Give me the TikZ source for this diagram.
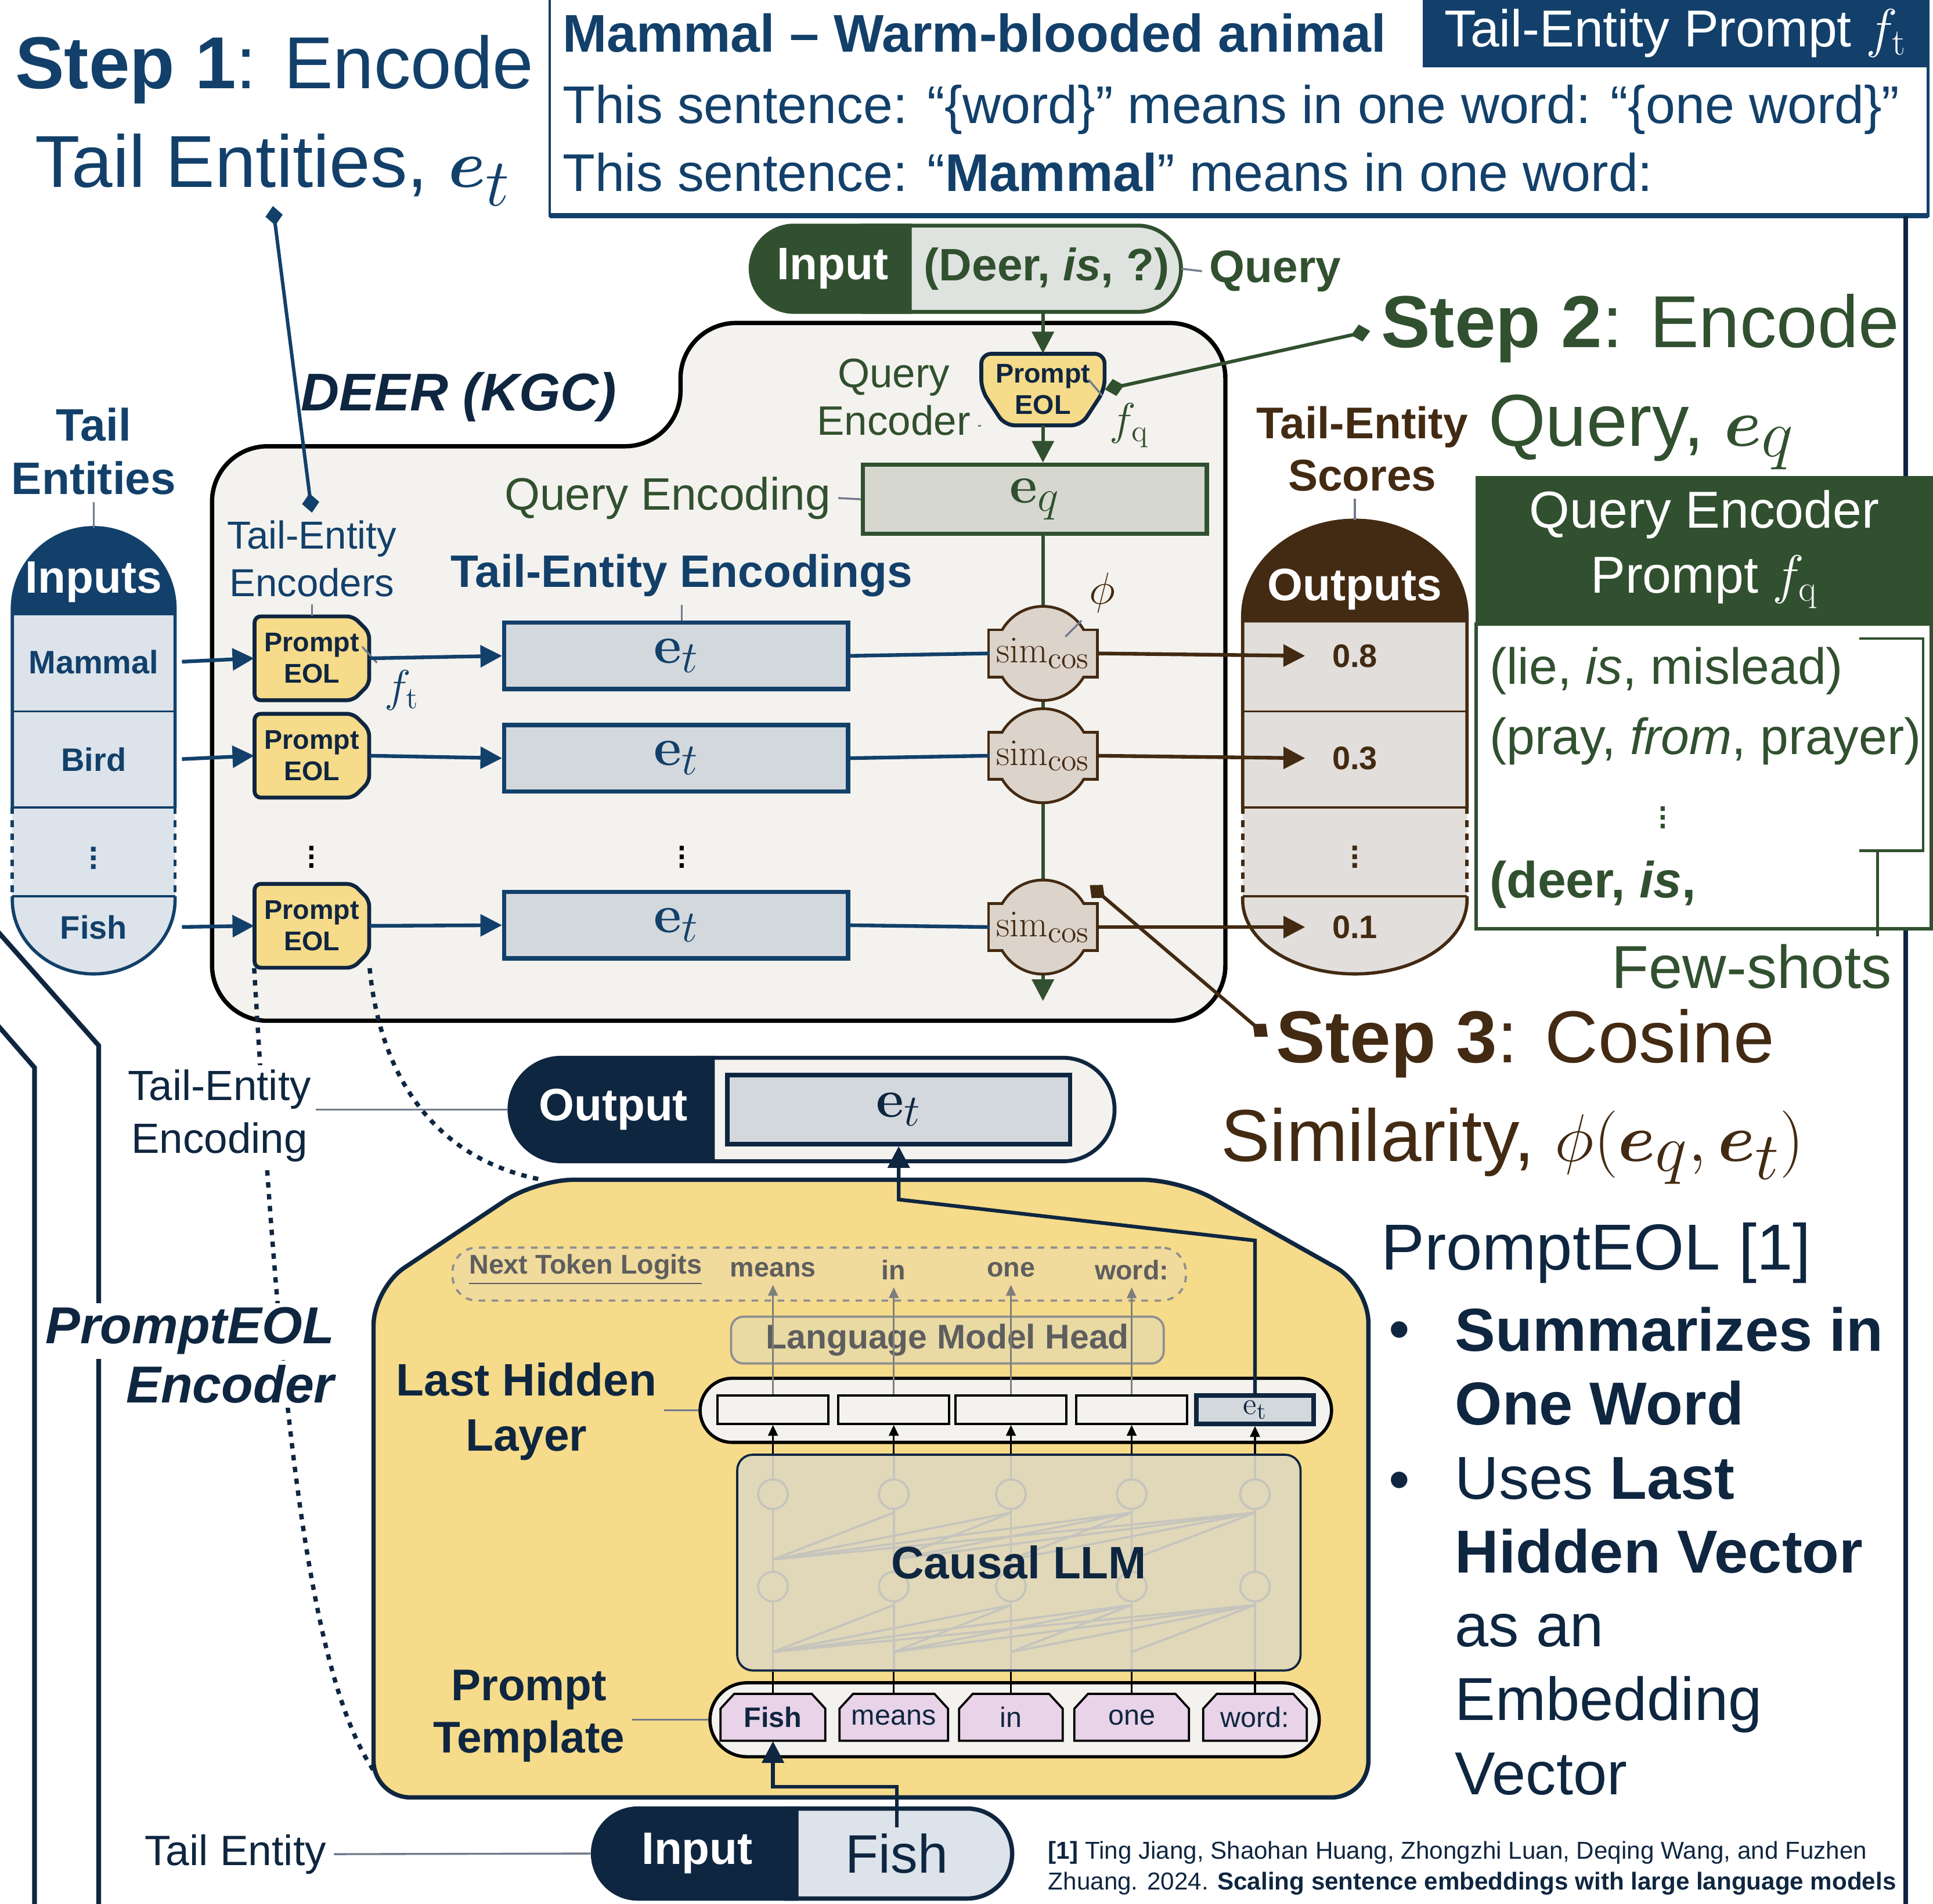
\documentclass[tikz,border=0pt]{standalone}
\usepackage{amsmath}
\usepackage{bm}
\usepackage[no-math]{fontspec}
\setmainfont{Liberation Sans}
\usetikzlibrary{arrows.meta, shapes.misc, calc, positioning}

\definecolor{tblue}{HTML}{12406A}
\definecolor{navy}{HTML}{0F2640}
\definecolor{qgreen}{HTML}{31502F}
\definecolor{sbrown}{HTML}{432A12}
\definecolor{eolyel}{HTML}{F5DB8A}
\definecolor{boxgrey}{HTML}{D3D8DD}
\definecolor{infill}{HTML}{DCE3EA}
\definecolor{eqfill}{HTML}{D6D8D0}
\definecolor{deerfill}{HTML}{F4F2EE}
\definecolor{outfill}{HTML}{E2DEDB}
\definecolor{simfill}{HTML}{DCD3CB}
\definecolor{tokpink}{HTML}{E8D3E8}
\definecolor{qinfill}{HTML}{DFE3DF}
\definecolor{lblgrey}{HTML}{717A8C}
\definecolor{lmgrey}{HTML}{5E5E5E}
\definecolor{logitfill}{HTML}{F0DA9C}
\definecolor{headfill}{HTML}{E9D9A3}
\definecolor{llmgrey}{HTML}{D6D7D3}
\definecolor{faintgrey}{HTML}{A6A396}

\newcommand{\fsz}[2]{\fontsize{#1}{#2}\selectfont}
\newcommand{\bigmath}[1]{\scalebox{1.25}{$#1$}}
% box shapes drawn under their nodes
\newcommand{\eolshape}[2]{%
  \draw[navy, fill=eolyel, line width=1.8pt, rounded corners=0.1cm] (#1-46.5,#2) -- (#1-46.5,#2-34)
    -- (#1+33.5,#2-34) -- (#1+46.5,#2-21) -- (#1+46.5,#2+21) -- (#1+33.5,#2+34) -- (#1-46.5,#2+34) -- cycle;}
\newcommand{\qeolshape}[2]{%
  \draw[navy, fill=eolyel, line width=1.8pt, rounded corners=0.16cm] (#1,#2-29) -- (#1+50,#2-29)
    -- (#1+50,#2) -- (#1+31,#2+29) -- (#1-31,#2+29) -- (#1-50,#2) -- (#1-50,#2-29) -- cycle;}
\newcommand{\tokshape}[3]{%
  \draw[black, fill=tokpink, line width=1pt] (#1,#2+19) -- (#1+#3,#2+19) -- (#1+#3,#2-7) -- (#1+#3-11,#2-19)
    -- (#1-#3+11,#2-19) -- (#1-#3,#2-7) -- (#1-#3,#2+19) -- cycle;}

\pgfdeclarelayer{bg}
\pgfdeclarelayer{edges}
\pgfsetlayers{bg,edges,main}

\begin{document}
\begin{tikzpicture}[x=0.02cm, y=-0.02cm,
    lbl/.style={draw=lblgrey, line width=0.9pt},
    bigarr/.style={-{Triangle[length=10pt,width=10pt]}, line width=1.7pt},
    thinarr/.style={-{Triangle[length=5pt,width=4.5pt]}, line width=0.9pt},
    ptr/.style={{Diamond[length=9pt,width=8pt]}-{Diamond[length=9pt,width=8pt]}, line width=1.6pt},
    dotline/.style={navy, line width=2pt, dash pattern=on 2.5pt off 3pt},
    eolbox/.style={text=navy, align=center, font=\bfseries\fsz{12.5}{14.5},
      minimum width=1.86cm, minimum height=1.36cm, inner sep=0pt},
    etbox/.style={draw=tblue, line width=2pt, fill=boxgrey, text=tblue, font=\fsz{28}{30},
      minimum width=5.58cm, minimum height=1.08cm, inner sep=0pt},
    cell/.style={minimum width=2.64cm, inner sep=0pt, font=\bfseries\fsz{15}{18}},
    dots/.style={inner sep=0pt, font=\fsz{20}{24}},
    token/.style={minimum height=0.76cm, inner sep=0pt, text=navy, font=\fsz{13}{15}},
    hcell/.style={draw=black, line width=1pt, fill=deerfill, minimum width=1.8cm,
      minimum height=0.46cm, inner sep=0pt},
    lgtxt/.style={text=lmgrey, font=\bfseries\fsz{12.5}{15}},
    title/.style={anchor=base west, inner sep=0pt, font=\fsz{34}{40}},
    line/.style={anchor=base west, inner sep=0pt},
  ]
\useasboundingbox (0,0) rectangle (1568,1544);

% frames and panels
\begin{pgfonlayer}{bg}
  \draw[tblue, line width=1.2pt] (446,-5) -- (446,175) -- (1564,175) -- (1564,-5);
  \draw[tblue, line width=2.4pt] (446,175) -- (1564,175);
  \draw[navy, line width=2.2pt] (1546,175) -- (1546,1550);
  \draw[navy, line width=2.2pt] (-5,752) -- (80,848) -- (80,1550);
  \draw[navy, line width=2.2pt] (-5,828) -- (28,866) -- (28,1550);
  % DEER (KGC)
  \draw[fill=deerfill, line width=2pt, rounded corners=0.9cm] (700,262) -- (994,262) -- (994,828)
    -- (172,828) -- (172,362) -- (552,362) -- (552,262) -- cycle;
  % PromptEOL encoder
  \draw[navy, fill=eolyel, line width=2pt, rounded corners=0.6cm] (700,957) -- (957,957) -- (1110,1043)
    -- (1110,1458) -- (303,1458) -- (303,1045) -- (435,957) -- cycle;
\end{pgfonlayer}

% tail-entity prompt
\node[fill=tblue, text=white, minimum width=8.2cm, minimum height=1.1cm, font=\fsz{24}{28}] (tphead) at (1359,27) {Tail-Entity Prompt $f_\mathrm{t}$};
\node[line, text=tblue, font=\bfseries\fsz{24.5}{28}] (tpline1) at (456,42) {Mammal -- Warm-blooded animal};
\node[line, text=tblue, font=\fsz{24.5}{28}] (tpline2) at (456,100) {This sentence: “\{word\}” means in one word: “\{one word\}”};
\node[line, text=tblue, font=\fsz{24.5}{28}] (tpline3) at (456,155) {This sentence: “\textbf{Mammal}” means in one word:};

% step titles
\node[title, text=tblue] (step1a) at (12,72) {\textbf{Step 1}: Encode};
\node[title, text=tblue] (step1b) at (28,152) {Tail Entities, \bigmath{\bm{e}_t}};
\node[title, text=qgreen] (step2a) at (1120,282) {\textbf{Step 2}: Encode};
\node[title, text=qgreen] (step2b) at (1207,362) {Query, \bigmath{\bm{e}_q}};
\node[title, text=sbrown] (step3a) at (1035,862) {\textbf{Step 3}: Cosine};
\node[title, text=sbrown] (step3b) at (990,942) {Similarity, \bigmath{\phi(\bm{e}_q, \bm{e}_t)}};

\node[text=navy, font=\bfseries\itshape\fsz{24.5}{30}] (deer) at (372,322) {DEER (KGC)};

% query input
\path[draw=qgreen, fill=qinfill, line width=1.8pt] (700,183) -- (923,183) arc[start angle=270, end angle=450, radius=35] -- (700,253) -- cycle;
\node[minimum width=4.36cm, minimum height=1.4cm, text=qgreen, font=\bfseries\fsz{21}{24}] (qtxt) at (849,218) {(Deer, \textit{is}, ?)};
\node[rounded rectangle, rounded rectangle east arc=none, draw=qgreen, line width=1.8pt, fill=qgreen, inner xsep=0pt,
  minimum width=2.58cm, minimum height=1.4cm, text=white, font=\bfseries\fsz{21}{24}] (qin) at (675.5,218) {Input};
\node[anchor=west, text=qgreen, font=\bfseries\fsz{21}{24}] (qlabel) at (975,220) {Query};

\qeolshape{846}{316}
\node[eolbox, minimum width=2cm, minimum height=1.16cm] (qeol) at (846,316) {Prompt\\EOL};
\node[text=qgreen, font=\fsz{19}{22}, align=center] (qenc) at (725,322) {Query\\Encoder};
\node[text=qgreen, font=\fsz{20}{24}] (fq) at (916,345) {$f_\mathrm{q}$};
\node[draw=qgreen, line width=2pt, fill=eqfill, text=qgreen, font=\fsz{28}{30}, inner sep=0pt, minimum width=5.58cm, minimum height=1.12cm] (eq) at (839.5,405) {$\mathbf{e}_q$};
\node[anchor=east, text=qgreen, font=\fsz{21}{24}] (qenclbl) at (680,404) {Query Encoding};
\coordinate (qend) at (846,812);

% tail-entity inputs
\fill[infill] (10,730) -- (10,494) arc[start angle=180, end angle=360, radius=66] -- (142,730)
  arc[start angle=0, end angle=180, x radius=66, y radius=60] -- cycle;
\fill[tblue] (10,497) -- (10,494) arc[start angle=180, end angle=360, radius=66] -- (142,497) -- cycle;
\draw[tblue, line width=1.5pt] (10,655) -- (10,494) arc[start angle=180, end angle=360, radius=66] -- (142,655);
\draw[tblue, line width=1.5pt, dashed] (10,655) -- (10,727) (142,655) -- (142,727);
\draw[tblue, line width=1.5pt] (10,727) -- (10,730) arc[start angle=180, end angle=0, x radius=66, y radius=60] -- (142,727);
\draw[tblue, line width=2.5pt] (10,497) -- (142,497);
\draw[tblue, line width=1pt] (10,577) -- (142,577) (10,655) -- (142,655) (10,727) -- (142,727);
\node[text=white, font=\bfseries\fsz{21}{24}] (inhead) at (76,472) {Inputs};
\node[cell, text=tblue] (in1) at (76,537) {Mammal};
\node[cell, text=tblue] (in2) at (76,616) {Bird};
\node[cell, text=tblue] (in3) at (76,691) {$\vdots$};
\node[cell, text=tblue] (in4) at (76,752) {Fish};
\node[text=tblue, font=\bfseries\fsz{21}{24.5}, align=center] (tentlbl) at (76,366) {Tail\\Entities};
\coordinate (intop) at (76,428);

% tail-entity encoders
\eolshape{253}{534}
\eolshape{253}{613}
\eolshape{253}{751}
\node[eolbox] (eol1) at (253,534) {Prompt\\EOL};
\node[eolbox] (eol2) at (253,613) {Prompt\\EOL};
\node[eolbox] (eol3) at (253,751) {Prompt\\EOL};
\node[dots] (eoldots) at (253,690) {$\vdots$};
\node[text=tblue, font=\fsz{20}{24}] (ft) at (326,560) {$f_\mathrm{t}$};
\node[text=tblue, font=\fsz{18}{22}, align=center] (teenc) at (253,453) {Tail-Entity\\Encoders};

\node[etbox] (et1) at (548.5,532) {$\mathbf{e}_t$};
\node[etbox] (et2) at (548.5,615) {$\mathbf{e}_t$};
\node[etbox] (et3) at (548.5,750.5) {$\mathbf{e}_t$};
\node[dots] (etdots) at (553,690) {$\vdots$};
\node[text=tblue, font=\bfseries\fsz{21}{24}] (tee) at (553,467) {Tail-Entity Encodings};

% cosine similarity
\foreach \n/\y in {s1/530,s2/613,s3/752} {
  \draw[sbrown, line width=2.6pt] (846,\y) circle[radius=37];
  \draw[sbrown, line width=2.6pt] (803,\y-18) rectangle (889,\y+18);
  \fill[simfill] (846,\y) circle[radius=37];
  \fill[simfill] (803,\y-18) rectangle (889,\y+18);
  \node[text=sbrown, font=\fsz{19}{22}, minimum width=1.72cm, minimum height=0.72cm, inner sep=0pt] (\n) at (846,\y) {$\mathrm{sim}_{\mathrm{cos}}$};
}
\node[text=sbrown, font=\fsz{20}{24}] (phi) at (894,481) {$\phi$};
\coordinate (p3) at (884,718);

% outputs
\fill[outfill] (1008,730) -- (1008,500) arc[start angle=180, end angle=360, x radius=91, y radius=78] -- (1190,730)
  arc[start angle=0, end angle=180, x radius=91, y radius=60] -- cycle;
\fill[sbrown] (1008,505) -- (1008,500) arc[start angle=180, end angle=360, x radius=91, y radius=78] -- (1190,505) -- cycle;
\draw[sbrown, line width=1.5pt] (1008,655) -- (1008,500) arc[start angle=180, end angle=360, x radius=91, y radius=78] -- (1190,655);
\draw[sbrown, line width=1.5pt, dashed] (1008,655) -- (1008,727) (1190,655) -- (1190,727);
\draw[sbrown, line width=1.5pt] (1008,727) -- (1008,730) arc[start angle=180, end angle=0, x radius=91, y radius=60] -- (1190,727);
\draw[sbrown, line width=1pt] (1008,577) -- (1190,577) (1008,655) -- (1190,655) (1008,727) -- (1190,727);
\node[text=white, font=\bfseries\fsz{21}{24}] (outhead) at (1099,478) {Outputs};
\node[text=sbrown, font=\bfseries\fsz{15}{18}, minimum width=1.6cm, inner sep=0pt] (o1) at (1099,532) {0.8};
\node[text=sbrown, font=\bfseries\fsz{15}{18}, minimum width=1.6cm, inner sep=0pt] (o2) at (1099,615) {0.3};
\node[text=sbrown, font=\bfseries\fsz{15}{18}, minimum width=1.6cm, inner sep=0pt] (o3) at (1099,690) {$\vdots$};
\node[text=sbrown, font=\bfseries\fsz{15}{18}, minimum width=1.6cm, inner sep=0pt] (o4) at (1099,752) {0.1};
\node[text=sbrown, font=\bfseries\fsz{20.5}{24}, align=center] (scores) at (1105,364) {Tail-Entity\\Scores};
\coordinate (outtop) at (1099,422);

% query encoder prompt
\node[fill=qgreen, text=white, minimum width=7.42cm, minimum height=2.38cm, font=\fsz{24}{30}, align=center] (qphead) at (1382.5,445.5) {Query Encoder\\Prompt $f_\mathrm{q}$};
\node[draw=qgreen, line width=1.5pt, fill=white, minimum width=7.38cm, minimum height=4.94cm, anchor=north] (qpbody) at (1382,505) {};
\node[line, text=qgreen, font=\fsz{23.5}{28}] (shot1) at (1208,555) {(lie, \textit{is}, mislead)};
\node[line, text=qgreen, font=\fsz{23.5}{28}] (shot2) at (1208,612) {(pray, \textit{from}, prayer)};
\node[dots, text=qgreen] (shotdots) at (1349,658) {$\vdots$};
\node[line, text=qgreen, font=\bfseries\fsz{23.5}{28}] (shot3) at (1208,728) {(deer, \textit{is},};
\draw[qgreen, line width=1.2pt] (1508,518) -- (1560,518) -- (1560,690) -- (1508,690);
\coordinate (brk) at (1523,690);
\node[text=qgreen, font=\fsz{28}{32}] (fewshots) at (1421,784) {Few-shots};

% PromptEOL encoder
\node[rounded rectangle, rounded rectangle west arc=none, draw=navy, line width=1.8pt, fill=deerfill,
  minimum width=7cm, minimum height=1.68cm] (oright) at (735,900) {};
\node[rounded rectangle, rounded rectangle east arc=none, draw=navy, line width=1.8pt, fill=navy, inner xsep=0pt,
  minimum width=3.3cm, minimum height=1.68cm, text=white, font=\bfseries\fsz{21}{24}] (oin) at (497.5,900) {Output};
\node[draw=navy, line width=2pt, fill=boxgrey, text=navy, font=\fsz{28}{30}, inner sep=0pt, minimum width=5.56cm, minimum height=1.12cm] (etout) at (729,900) {$\mathbf{e}_t$};
\node[fill=white, text=navy, font=\fsz{19.5}{24.5}, align=center, inner sep=2pt] (teenc2) at (178,905) {Tail-Entity\\Encoding};
\node[anchor=base east, fill=white, text=navy, font=\bfseries\itshape\fsz{24}{28}, inner sep=2pt] (peolA) at (275,1090) {PromptEOL};
\node[anchor=base east, fill=white, text=navy, font=\bfseries\itshape\fsz{24}{28}, inner sep=2pt] (peolB) at (275,1138) {Encoder};
\coordinate (ytl) at (440,957);
\coordinate (ybl) at (303,1436);
\coordinate (ydiag) at (0,973);

\node[draw=lmgrey!70, dashed, line width=1pt, rounded corners=0.4cm, fill=logitfill, minimum width=11.9cm, minimum height=0.86cm] (logits) at (664.5,1033.5) {};
\node[lgtxt] (lgname) at (475,1030) {\underline{Next Token Logits}};
\foreach \xc/\t [count=\i] in {627/means, 725/in, 820/one, 918/word:}
  \node[lgtxt] (lg\i) at (\xc,1030) {\t};
\node[draw=lmgrey!70, line width=1pt, rounded corners=0.2cm, fill=headfill, minimum width=7.02cm, minimum height=0.76cm,
  text=lmgrey, font=\bfseries\fsz{15.8}{18}] (lmhead) at (768.5,1087) {Language Model Head};

\node[rounded rectangle, draw=black, line width=1.5pt, fill=deerfill, minimum width=10.48cm, minimum height=1.04cm] (hid) at (824,1144) {};
\foreach \xc [count=\i] in {627,725,820,918}
  \node[hcell] (h\i) at (\xc,1143.5) {};
\node[hcell, draw=navy, line width=2pt, fill=boxgrey, minimum width=1.9cm, text=navy, font=\fsz{15}{16}] (h5) at (1018,1143.5) {$\mathrm{e}_\mathrm{t}$};
\node[text=navy, font=\bfseries\fsz{21}{25.6}, align=center] (lhl) at (427,1145) {Last Hidden\\Layer};

\node[draw=navy, line width=1pt, rounded corners=0.25cm, fill=llmgrey, fill opacity=0.65, text opacity=1, text=navy,
  font=\bfseries\fsz{21}{24}, minimum width=9.14cm, minimum height=3.5cm] (llm) at (826.5,1267.5) {Causal LLM};

\node[rounded rectangle, draw=black, line width=1.5pt, fill=deerfill, minimum width=10.12cm, minimum height=1.2cm] (tpl) at (823,1395) {};
\foreach \xc/\hw/\t [count=\i] in {627/42.5/\textbf{Fish}, 725/44/means, 820/42/in, 918/46.5/one, 1018/42/word:} {
  \tokshape{\xc}{1393}{\hw}
  \node[token, minimum width=2*\hw*0.02cm] (t\i) at (\xc,1393) {\t};
}
\node[text=navy, font=\bfseries\fsz{20.5}{24}, align=center] (ptl) at (429,1392) {Prompt\\Template};

\node[rounded rectangle, rounded rectangle west arc=none, draw=navy, line width=2pt, fill=infill,
  minimum width=3.9cm, minimum height=1.46cm, text=navy, font=\fsz{25}{30}] (bfish) at (727.5,1503.5) {Fish};
\node[rounded rectangle, rounded rectangle east arc=none, draw=navy, line width=2pt, fill=navy, inner xsep=0pt, minimum width=3.3cm,
  minimum height=1.46cm, text=white, font=\bfseries\fsz{21}{24}] (bin) at (565.5,1503.5) {Input};
\node[text=navy, font=\fsz{19.6}{23}] (tent) at (191,1504) {Tail Entity};

% PromptEOL notes
\node[line, text=navy, font=\fsz{30}{36}] (peolref) at (1120,1030) {PromptEOL [1]};
\node[line, text=navy, font=\fsz{28}{34}] (bul1) at (1126,1095) {•};
\node[line, text=navy, font=\fsz{28}{34}] (bul2) at (1126,1217) {•};
\node[anchor=north west, text=navy, font=\fsz{28}{34.1}, align=left, inner sep=0pt] (bultxt) at (1180,1060)
  {\textbf{Summarizes in}\\\textbf{One Word}\\Uses \textbf{Last}\\\textbf{Hidden Vector}\\as an\\Embedding\\Vector};
\node[line, text=navy, font=\fsz{11.3}{14}] (ref1) at (850,1508)
  {\textbf{[1]} Ting Jiang, Shaohan Huang, Zhongzhi Luan, Deqing Wang, and Fuzhen};
\node[line, text=navy, font=\fsz{11.3}{14}] (ref2) at (850,1533)
  {Zhuang. 2024. \textbf{Scaling sentence embeddings with large language models}};

% connectors under the nodes
\begin{pgfonlayer}{edges}
  \draw[qgreen, bigarr] (eq.south -| qeol) -- (qend);
  \draw[dotline] (eol3.south west) .. controls (225,1100) and (245,1350) .. (ybl);
  \draw[dotline] (eol3.south east) .. controls (308,870) and (350,940) .. (ytl);
  \foreach \a/\b in {627/725, 627/820, 627/918, 627/1018, 725/820, 725/918, 725/1018, 820/918, 820/1018, 918/1018} {
    \draw[faintgrey, line width=1pt] (\a,1340) -- (\b,1302);
    \draw[faintgrey, line width=1pt] (\a,1265) -- (\b,1227);
  }
  \foreach \xc in {627,725,820,918,1018} {
    \draw[faintgrey, line width=1pt] (\xc,1212) circle[radius=12];
    \draw[faintgrey, line width=1pt] (\xc,1287) circle[radius=12];
    \draw[faintgrey, line width=1pt] (\xc,1180) -- (\xc,1200) (\xc,1224) -- (\xc,1275) (\xc,1299) -- (\xc,1355);
  }
\end{pgfonlayer}

% connectors
\draw[qgreen, bigarr] (qtxt.south -| qeol) -- (qeol.north);
\draw[qgreen, bigarr] (qeol.south) -- (eq.north -| qeol);
\draw[lbl] (qtxt.east) -- (qlabel.west);
\draw[lbl] (qeol.south west) -- (qenc.east |- qeol.south west);
\draw[lbl] (fq.north west) -- ++(-11,-13);
\draw[lbl] (qenclbl.east) -- (eq.west);
\draw[lbl] (tentlbl.south) -- (intop);
\draw[lbl] (scores.south -| outtop) -- (outtop);
\draw[lbl] (teenc.south) -- (eol1.north);
\draw[lbl] (tee.south) -- (tee.south |- et1.north);
\draw[lbl] (ft.north west) -- ++(-12,-13);
\draw[lbl] (phi.south west) -- ++(-13,13);

\draw[tblue, bigarr, shorten <=3pt] (in1.east) -- (eol1.west);
\draw[tblue, bigarr, shorten <=3pt] (in2.east) -- (eol2.west);
\draw[tblue, bigarr, shorten <=3pt] (in4.east) -- (eol3.west);
\foreach \i in {1,2,3} {
  \draw[tblue, bigarr] (eol\i.east) -- (et\i.west);
  \draw[tblue, line width=1.7pt] (et\i.east) -- (s\i.west);
}
\draw[sbrown, bigarr] (s1.east) -- (o1.west);
\draw[sbrown, bigarr] (s2.east) -- (o2.west);
\draw[sbrown, bigarr] (s3.east) -- (o4.west);

\draw[qgreen, line width=1.2pt] (brk) -- (fewshots.north -| brk);

\draw[tblue, ptr] (step1b.south) -- (teenc.north);
\draw[qgreen, ptr, shorten <=5pt] (step2a.west) -- (qeol.east);
\draw[sbrown, ptr, shorten >=5pt] (p3) -- (step3a.west);

\draw[lbl] (teenc2.east |- oin.west) -- (oin.west);
\draw[lbl] (lhl.east |- hid.west) -- (hid.west);
\draw[lbl] (ptl.east |- tpl.west) -- (tpl.west);
\draw[lbl] (tent.east) -- (bin.west);

\foreach \i in {1,...,5} {
  \draw[black, line width=0.9pt] (t\i.north) -- (t\i.north |- llm.south);
  \draw[black, thinarr] (h\i.south |- llm.north) -- (h\i.south);
}
\foreach \i in {1,...,4}
  \draw[lmgrey!80, thinarr, line width=0.7pt] (h\i.north) -- (h\i.north |- lg\i.south);

\draw[navy, bigarr] (h5.north) -- ++(0,-124) -- (etout.south |- ydiag) -- (etout.south);
\draw[navy, bigarr] ($(bfish.north)+(0,17)$) -- ++(0,-33) -| (t1.south);
\end{tikzpicture}
\end{document}
